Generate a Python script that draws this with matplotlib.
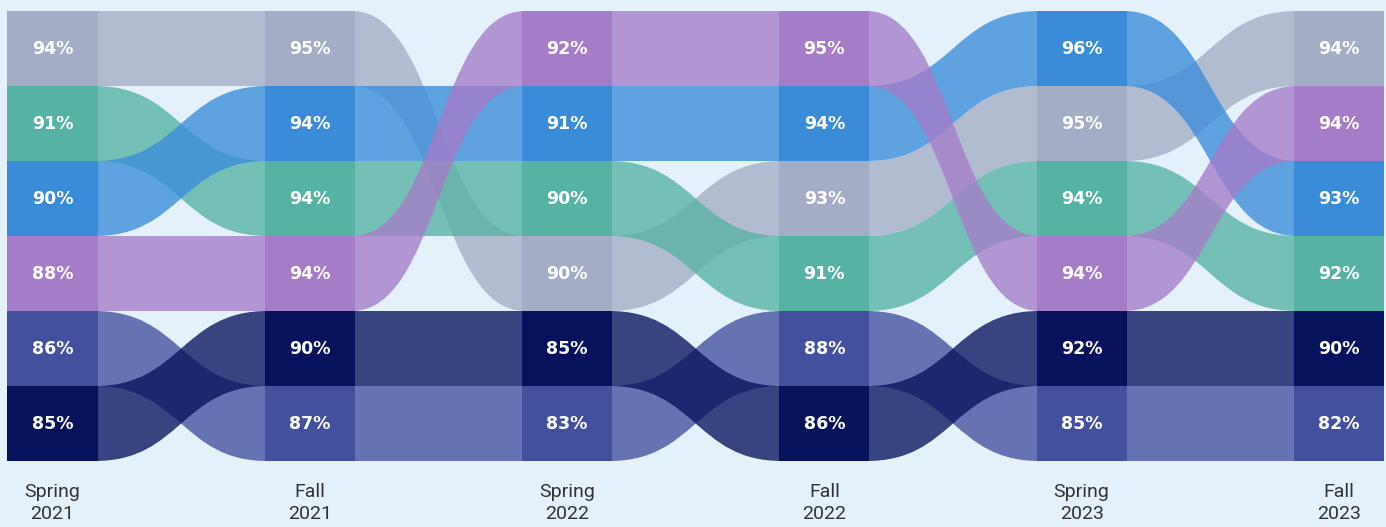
import numpy as np
import matplotlib
matplotlib.use("Agg")
from matplotlib import pyplot as plt
from matplotlib.path import Path
from matplotlib.patches import PathPatch, Rectangle

periods = ['Spring\n2021', 'Fall\n2021', 'Spring\n2022', 'Fall\n2022', 'Spring\n2023', 'Fall\n2023']

# percentages per group (colour) for each period
gray_vals   = [94, 95, 90, 93, 95, 94]
green_vals  = [91, 94, 90, 91, 94, 92]
blue_vals   = [90, 94, 91, 94, 96, 93]
purple_vals = [88, 94, 92, 95, 94, 94]
indigo_vals = [86, 87, 83, 88, 85, 82]
navy_vals   = [85, 90, 85, 86, 92, 90]

# rank (0 = top) in each period, ties are ordered as in the source
gray_rank   = [0, 0, 3, 2, 1, 0]
green_rank  = [1, 2, 2, 3, 2, 3]
blue_rank   = [2, 1, 1, 1, 0, 2]
purple_rank = [3, 3, 0, 0, 3, 1]
indigo_rank = [4, 5, 5, 4, 5, 5]
navy_rank   = [5, 4, 4, 5, 4, 4]

series = [
    (gray_vals, gray_rank, '#A3AEC6'),
    (green_vals, green_rank, '#56B3A3'),
    (blue_vals, blue_rank, '#3A8CD9'),
    (purple_vals, purple_rank, '#A57CC8'),
    (indigo_vals, indigo_rank, '#43509E'),
    (navy_vals, navy_rank, '#06135C'),
]

bg = '#E4F1FB'
box_w = 0.35

fig = plt.figure(figsize=(13.86, 5.27), dpi=100)
fig.patch.set_facecolor(bg)
ax = fig.add_axes([0, 0, 1, 1])
ax.set_facecolor(bg)
ax.set_xlim(-0.204, 5.183)
ax.set_ylim(6.38, -0.647)
ax.axis('off')

# ribbons between columns
for vals, rank, col in series:
    for i in range(len(periods) - 1):
        x0 = i + box_w / 2
        x1 = i + 1 - box_w / 2
        xm = (x0 + x1) / 2
        t0, t1 = rank[i] - 0.5, rank[i + 1] - 0.5
        b0, b1 = rank[i] + 0.5, rank[i + 1] + 0.5
        verts = [(x0 - 0.01, t0), (xm, t0), (xm, t1), (x1 + 0.01, t1),
                 (x1 + 0.01, b1), (xm, b1), (xm, b0), (x0 - 0.01, b0), (x0 - 0.01, t0)]
        codes = [Path.MOVETO, Path.CURVE4, Path.CURVE4, Path.CURVE4,
                 Path.LINETO, Path.CURVE4, Path.CURVE4, Path.CURVE4, Path.CLOSEPOLY]
        ax.add_patch(PathPatch(Path(verts, codes), facecolor=col, edgecolor='none',
                               alpha=0.78, zorder=1))

# boxes with labels
for vals, rank, col in series:
    for i, (v, r) in enumerate(zip(vals, rank)):
        ax.add_patch(Rectangle((i - box_w / 2, r - 0.5), box_w, 1,
                               facecolor=col, edgecolor='none', zorder=3))
        ax.text(i, r, f'{v}%', color='white', fontsize=12.5, fontweight='bold',
                ha='center', va='center', zorder=4)

for i, p in enumerate(periods):
    ax.text(i, 6.06, p, color='#333333', fontsize=14,
            family=['Liberation Sans Narrow', 'Roboto', 'DejaVu Sans'],
            ha='center', va='center', linespacing=1.3)

fig.savefig('out.png', dpi=100, facecolor=bg)
